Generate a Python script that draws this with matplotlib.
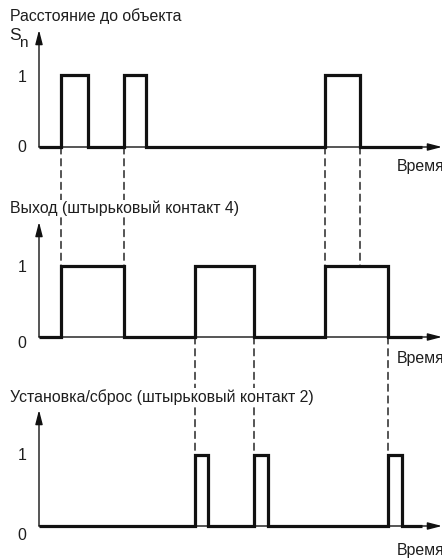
import matplotlib
matplotlib.use("Agg")
import matplotlib.pyplot as plt
from matplotlib.patches import ConnectionPatch

plt.rcParams['font.family'] = ['Liberation Sans', 'DejaVu Sans']

# Данные: моменты переключения сигналов (условные единицы времени)
t_end = 383
sn_edges = [22, 49, 85, 107, 286, 321]     # расстояние до объекта
out_edges = [22, 85, 156, 215, 286, 349]   # выход (контакт 4)
set_edges = [156, 169, 215, 229, 349, 363] # установка/сброс (контакт 2)
links_12 = [22, 85, 286, 321]
links_23 = [156, 215, 349]

titles = ["Расстояние до объекта",
          "Выход (штырьковый контакт 4)",
          "Установка/сброс (штырьковый контакт 2)"]
time_label = "Время"

# Оформление (пиксели картинки 442x558)
W, H = 442, 558
x_origin = 39
zero_px = [147, 337, 526]
one_px = [75, 266, 455]
arrow_top_px = [30, 222, 410]
title_px = [16, 208, 397]
zero_lbl_px = [147, 343, 535]
one_lbl_px = [77, 268, 456]
time_lbl_px = [166, 359, 550]
sig_color = '#111111'
txt_color = '#1e1e1e'
fs = 11.4


def step(edges):
    xs, ys = [0], [0]
    level = 0
    for e in edges:
        xs += [e, e]
        ys += [level, 1 - level]
        level = 1 - level
    xs.append(t_end)
    ys.append(level)
    return xs, ys


arrow_style = '-|>,head_length=0.85,head_width=0.22'

fig = plt.figure(figsize=(W / 100, H / 100), dpi=100)
axes = []
for i, edges in enumerate([sn_edges, out_edges, set_edges]):
    ax = fig.add_axes([0, 0, 1, 1], facecolor='none')
    z, u = zero_px[i], zero_px[i] - one_px[i]
    ax.set_xlim(-x_origin, W - x_origin)
    ax.set_ylim((z - H) / u, z / u)
    ax.axis('off')
    # оси со стрелками
    top = (z - arrow_top_px[i]) / u
    ax.annotate('', xy=(0, top), xytext=(0, 0),
                arrowprops=dict(arrowstyle=arrow_style, lw=1, color=sig_color,
                                shrinkA=0, shrinkB=0, mutation_scale=10))
    ax.annotate('', xy=(W - x_origin, 0), xytext=(0, 0),
                arrowprops=dict(arrowstyle=arrow_style, lw=1, color=sig_color,
                                shrinkA=0, shrinkB=0, mutation_scale=10))
    xs, ys = step(edges)
    ax.plot(xs, ys, color=sig_color, lw=2.3, solid_joinstyle='miter',
            solid_capstyle='butt', zorder=3)
    fig.text(10 / W, 1 - title_px[i] / H, titles[i], fontsize=fs, color=txt_color,
             va='center', ha='left',
             bbox=dict(facecolor='white', edgecolor='none', pad=0.5), zorder=5)
    fig.text(22 / W, 1 - zero_lbl_px[i] / H, "0", fontsize=fs, color=txt_color,
             va='center', ha='center')
    fig.text(22 / W, 1 - one_lbl_px[i] / H, "1", fontsize=fs, color=txt_color,
             va='center', ha='center')
    fig.text(397 / W, 1 - time_lbl_px[i] / H, time_label, fontsize=fs,
             color=txt_color, va='center', ha='left')
    axes.append(ax)

# S с индексом n
fig.text(9 / W, 1 - 36 / H, "S", fontsize=12.5, color=txt_color,
         va='center', ha='left')
fig.text(19.5 / W, 1 - 43 / H, "n", fontsize=11, color=txt_color,
         va='center', ha='left')

for links, a, b in [(links_12, axes[0], axes[1]), (links_23, axes[1], axes[2])]:
    for t in links:
        con = ConnectionPatch(xyA=(t, 0), coordsA=a.transData,
                              xyB=(t, 1), coordsB=b.transData,
                              color=sig_color, lw=1, linestyle=(0, (5, 3.5)),
                              zorder=2)
        fig.add_artist(con)

fig.savefig('out.png', dpi=100)
